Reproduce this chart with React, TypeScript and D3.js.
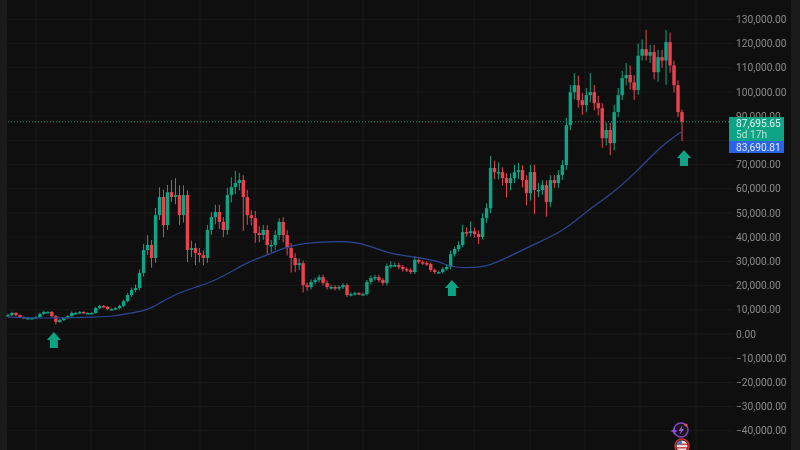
import React from "react";
import * as d3 from "d3";

const closes = [
  7.8,8.7,7.8,7.0,6.6,6.6,6.6,7.0,8.3,9.1,
  9.1,7.4,5.0,5.8,6.6,7.4,8.7,8.7,9.1,8.7,
  8.7,8.7,10.7,11.6,11.2,10.3,10.3,10.7,11.6,13.6,
  16.1,18.2,19.0,25.2,34.7,36.8,31.4,49.1,56.6,45,
  58.6,56.6,57.4,49.1,57.4,34.7,35.5,33.5,32.6,31.4,
  43,48.3,50.4,46.3,43,57.4,60.7,62.4,63.6,56.6,
  49.1,47.9,41.7,40.9,43,36.8,36.8,40.9,46.3,40.9,
  35.5,31.4,28.5,29.3,20.2,19.4,21.5,22.3,23.5,21.1,
  19.4,19.4,19,19.4,20.2,16.1,16.5,16.9,16.5,16.5,
  21.5,23.1,23.5,22.3,21.1,28.1,28.5,28.5,27.7,26.8,
  26.4,25.6,30.6,29.7,29.3,28.9,26.4,25.6,25.6,26.8,
  27.7,33,35.1,36.8,42.1,41.7,42.5,41.3,40.1,47.9,
  52,68.6,66.9,66.9,64.4,62.4,64.4,66.9,67.7,63.6,
  58.2,66.9,59.5,59.5,61.5,54.5,63.6,62.4,65.7,69.8,
  86.3,99.9,102.8,96.6,94.6,98.7,99.9,95.4,93.3,80.9,
  84.3,78.9,91.7,98.7,105.7,107,104,100.8,115,117.7,
  115,116.5,108.2,114.4,113,120.6,111,102.8,91.7,87.7,
];
const wickUp = [
  .6,.5,.4,.3,.3,.3,.3,.4,.5,.6,
  .4,.4,.5,.4,.4,.4,.6,.4,.4,.3,
  .3,.4,.6,.5,.4,.4,.3,.4,.5,.6,
  .8,1,1.5,1.5,2.5,4,2,3,4,3,
  3,5,7,4,4,2,3,2,2,2,
  2,2,3,3,2,3,4,5,3,2,
  3,2,3,3,2,2,2,2,1.5,2,
  2,2,2,2,1,1,1,1,1,1,
  1,1,.8,.8,.8,.6,.6,.6,.5,.5,
  .8,1,1,1,.8,1,1.5,1,1,.8,
  .8,.8,1.5,1,.8,.8,.6,.6,.6,.8,
  1,1.5,1,1.5,3,2,4,1.5,1.5,2,
  2,5,3,4,2,2,2,3,3,2,
  2,3,3,3,2,2,2,2,2,2,
  3,3,5,4,3,3,8,3,3,2,
  3,3,3,3,3,5,4,3,5,4,
  8,3,3,3,3,5,4,2,2,1,
];
const wickDown = [
  .4,.4,.5,.4,.3,.3,.3,.3,.4,.5,
  .5,.6,1,.5,.4,.4,.4,.4,.5,.4,
  .3,.4,.4,.5,.4,.4,.3,.4,.4,.5,
  .6,.8,1,1,1.5,2,4,2,2,5,
  2,2,3,4,3,5,3,5,3,3,
  2,2,3,3,3,2,3,3,3,14,
  4,3,4,3,2,4,3,2,2,3,
  3,6,3,2,3,1.5,1,1,1,1,
  1,1,1,1,.8,.8,.6,.6,.5,.5,
  .6,1,1,1,1,1,1,.8,1,1,
  .8,.8,.8,.8,.8,.8,.8,.8,.6,.6,
  .6,1,1,1,1,1.5,1.5,1.5,3,1,
  2,2,3,3,3,6,3,2,3,3,
  5,3,10,3,2,6,2,2,2,2,
  2,2,3,3,4,3,3,3,3,4,
  3,5,3,2,2,3,3,4,2,2,
  2,3,3,4,3,10,3,3,2,8,
];
const maIndex = [0,6,12,22,27,31,35,38,43,48,51,56,60,65,69,73,78,86,90,96,102,107,111,115,120,125,132,139,146,152,158,164,168,169];
const maValue = [7.0,6.6,6.6,7.0,7.4,8.7,9.9,12.8,17.3,19.8,21.5,25.6,29.7,32.6,35.5,37.2,38,38.4,36.8,33,31.8,30.6,27.7,27.3,27.7,31.4,37.2,42.1,52,58.6,67.7,78,82.6,83.7];
const gridValues = [130,120,110,100,90,80,70,60,50,40,30,20,10,0,-10,-20,-30,-40];
const tickValues = [130,120,110,100,90,70,60,50,40,30,20,10,0,-10,-20,-30,-40];
const gridX = [36,91,145,200,255,308,363,418,474,530,585,640,696];
const arrowSpots = [[11.5,-2.5],[111.3,19],[169,72.7]];
const lastPrice = "87,695.65";
const countdown = "5d 17h";
const maLabel = "83,690.81";
const lastValue = 87.69565;

const y = d3.scaleLinear().domain([0, 130]).range([334, 19.4]);
const x = d3.scaleLinear().domain([0, 169]).range([8, 682]);
const UP = "#10a586";
const DOWN = "#ec4350";
const FONT = "Roboto, Inter, sans-serif";

const fmt = (v: number) => (v < 0 ? "\u2212" : "") + d3.format(",.2f")(Math.abs(v) * 1000);
const ma = d3.line<number>().x((_, i) => x(maIndex[i])).y((d) => y(d)).curve(d3.curveBasis)(maValue) as string;

function Arrow({ cx, top }: { cx: number; top: number }) {
  const pts = [[cx, top],[cx + 7, top + 8],[cx + 4, top + 8],[cx + 4, top + 16],[cx - 4, top + 16],[cx - 4, top + 8],[cx - 7, top + 8]];
  return <polygon points={pts.map((p) => p.join(",")).join(" ")} fill="#0fa385" />;
}

export default function App() {
  return (
    <svg width={800} height={450} viewBox="0 0 800 450" style={{ position: "absolute", left: 0, top: 0, background: "#0f0f0f" }} fontFamily={FONT}>
      <defs>
        <filter id="soft" x="0" y="0" width="100%" height="100%"><feGaussianBlur stdDeviation="0.55" /></filter>
        <filter id="softText" x="0" y="0" width="100%" height="100%"><feGaussianBlur stdDeviation="0.35" /></filter>
        <clipPath id="flagClip"><circle cx={682} cy={446} r={5.5} /></clipPath>
      </defs>
      <rect x={0} y={0} width={7} height={450} fill="#1b1b1b" />
      <rect x={791} y={0} width={9} height={450} fill="#1b1b1b" />
      <g stroke="#1a1a1a" strokeWidth={1}>
        {gridValues.map((t) => <line key={t} x1={7} x2={733} y1={y(t)} y2={y(t)} />)}
        {gridX.map((g) => <line key={g} x1={g} x2={g} y1={0} y2={450} />)}
      </g>
      <g filter="url(#soft)">
        <line x1={8} x2={729} y1={y(lastValue)} y2={y(lastValue)} stroke="#12a586" strokeWidth={1} strokeDasharray="1 2" />
        {closes.map((c, i) => {
          const o = i === 0 ? c : closes[i - 1];
          const col = c >= o ? UP : DOWN;
          const top = y(Math.max(o, c));
          const h = Math.max(1.5, y(Math.min(o, c)) - top);
          return (
            <g key={i}>
              <line x1={x(i)} x2={x(i)} y1={y(Math.max(o, c) + wickUp[i])} y2={y(Math.min(o, c) - wickDown[i])} stroke={col} strokeWidth={1} />
              <rect x={x(i) - 1.7} y={top} width={3.4} height={h} fill={col} />
            </g>
          );
        })}
        <path d={ma} fill="none" stroke="#2b4693" strokeWidth={1.2} />
        {arrowSpots.map(([i, v], k) => <Arrow key={k} cx={x(i) + (k === 2 ? 2 : 0)} top={y(v) - 8} />)}
      </g>
      <g filter="url(#softText)">
        {tickValues.map((t) => (
          <text key={t} x={736} y={y(t) + 3.6} fontSize={10.2} fill="#8b8b8b">{fmt(t)}</text>
        ))}
        <rect x={729} y={117} width={55} height={24} fill="#0fa385" />
        <rect x={729} y={141} width={55} height={12} fill="#2962e8" />
        <text x={736} y={126.5} fontSize={10.2} fill="#e4f4ef">{lastPrice}</text>
        <text x={736} y={137.5} fontSize={10.2} fill="#b5e3d6">{countdown}</text>
        <text x={736} y={150.5} fontSize={10.2} fill="#e6edfb">{maLabel}</text>
        <circle cx={681} cy={430} r={7} fill="#1a1320" stroke="#8a46c8" strokeWidth={1.4} />
        <path d="M682.5 425 L678.5 431 L681 431 L679.5 435 L684 429 L681.5 429 Z" fill="#a25ae0" />
        <circle cx={686} cy={425} r={1.6} fill="#e0584a" />
        <path d="M674 427 L675 430 L678 431 L675 432 L674 435 L673 432 L670 431 L673 430 Z" fill="#9a50e0" />
        <circle cx={682} cy={446} r={7} fill="#181818" stroke="#c8362f" strokeWidth={1.6} />
        <g clipPath="url(#flagClip)">
          <rect x={676} y={440} width={12} height={12} fill="#e8e8e8" />
          <rect x={676} y={443.5} width={12} height={1.6} fill="#d84a44" />
          <rect x={676} y={447} width={12} height={1.6} fill="#d84a44" />
          <rect x={676} y={440} width={6} height={4.5} fill="#4a76c8" />
        </g>
      </g>
    </svg>
  );
}
